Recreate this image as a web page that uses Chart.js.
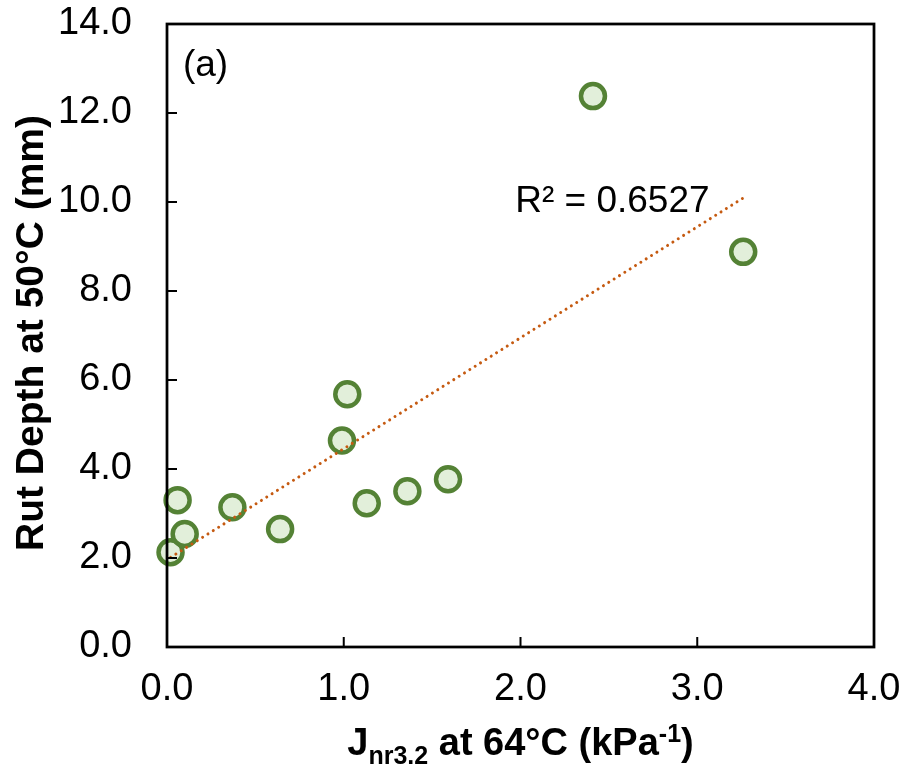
<!DOCTYPE html>
<html>
<head>
<meta charset="utf-8">
<script src="https://cdn.jsdelivr.net/npm/chart.js@4.4.1/dist/chart.umd.min.js"></script>
<style>
  html, body { margin: 0; padding: 0; background: #fff; }
</style>
</head>
<body>
<canvas id="rutChart" width="913" height="779"></canvas>
<script>
// data
var jnrValues = [0.02, 0.06, 0.10, 0.37, 0.64, 0.99, 1.02, 1.13, 1.36, 1.59, 2.41, 3.26];
var rutDepths = [2.13, 3.30, 2.54, 3.14, 2.65, 4.64, 5.68, 3.23, 3.50, 3.77, 12.38, 8.88];
var xTicks = [0, 1, 2, 3, 4];
var yTicks = [0, 2, 4, 6, 8, 10, 12, 14];
var r2Label = 'R² = 0.6527';
var panelLabel = '(a)';

var FONT = '"Liberation Sans", Arial, sans-serif';

// least squares trendline over the data range (like Excel)
var n = jnrValues.length, sx = 0, sy = 0, sxx = 0, sxy = 0;
for (var i = 0; i < n; i++) {
    sx += jnrValues[i]; sy += rutDepths[i];
    sxx += jnrValues[i] * jnrValues[i]; sxy += jnrValues[i] * rutDepths[i];
}
var slope = (n * sxy - sx * sy) / (n * sxx - sx * sx);
var intercept = (sy - slope * sx) / n;
var xLo = Math.min.apply(null, jnrValues), xHi = Math.max.apply(null, jnrValues);
var trendPoints = [
    { x: xLo, y: intercept + slope * xLo },
    { x: xHi, y: intercept + slope * xHi }
];

var scatterPoints = jnrValues.map(function (v, i) { return { x: v, y: rutDepths[i] }; });

var framePlugin = {
    id: 'frame',
    afterDraw: function (chart) {
        var ctx = chart.ctx, a = chart.chartArea;
        var xs = chart.scales.x, ys = chart.scales.y;
        ctx.save();
        ctx.strokeStyle = '#000';
        ctx.lineWidth = 2.75;
        ctx.strokeRect(a.left, a.top, a.right - a.left, a.bottom - a.top);
        // inner tick marks
        ctx.lineWidth = 2;
        ctx.beginPath();
        xTicks.forEach(function (t) {
            var px = xs.getPixelForValue(t);
            ctx.moveTo(px, a.bottom); ctx.lineTo(px, a.bottom - 10);
        });
        yTicks.forEach(function (t) {
            var py = ys.getPixelForValue(t);
            ctx.moveTo(a.left, py); ctx.lineTo(a.left + 10, py);
        });
        ctx.stroke();

        ctx.fillStyle = '#000';
        // R² and panel label
        ctx.font = '37px ' + FONT;
        ctx.textAlign = 'left';
        ctx.textBaseline = 'middle';
        ctx.fillText(r2Label, xs.getPixelForValue(1.97), ys.getPixelForValue(10.0));
        ctx.fillText(panelLabel, xs.getPixelForValue(0.09), ys.getPixelForValue(13.05));

        // y axis title
        ctx.save();
        ctx.translate(43, 333);
        ctx.rotate(-Math.PI / 2);
        ctx.font = 'bold 39px ' + FONT;
        ctx.textAlign = 'center';
        ctx.textBaseline = 'alphabetic';
        ctx.fillText('Rut Depth at 50°C (mm)', 0, 0);
        ctx.restore();

        // x axis title with sub/superscript
        var parts = [
            { t: 'J', size: 38, dy: 0 },
            { t: 'nr3.2', size: 25, dy: 9 },
            { t: ' at 64°C (kPa', size: 38, dy: 0 },
            { t: '-1', size: 25, dy: -13 },
            { t: ')', size: 38, dy: 0 }
        ];
        var total = 0;
        parts.forEach(function (p) {
            ctx.font = 'bold ' + p.size + 'px ' + FONT;
            p.w = ctx.measureText(p.t).width;
            total += p.w;
        });
        var cx = (a.left + a.right) / 2 - total / 2;
        ctx.textBaseline = 'alphabetic';
        parts.forEach(function (p) {
            ctx.font = 'bold ' + p.size + 'px ' + FONT;
            ctx.fillText(p.t, cx, 755 + p.dy);
            cx += p.w;
        });
        ctx.restore();
    }
};

new Chart(document.getElementById('rutChart').getContext('2d'), {
    type: 'scatter',
    data: {
        datasets: [{
            type: 'line',
            label: 'Trend',
            data: trendPoints,
            borderColor: '#C55A11',
            borderWidth: 3,
            borderDash: [0.01, 6.3],
            borderCapStyle: 'round',
            pointRadius: 0,
            fill: false,
            order: 0
        }, {
            label: 'Rut depth',
            data: scatterPoints,
            backgroundColor: '#E2EFDA',
            borderColor: '#548235',
            borderWidth: 4.5,
            pointRadius: 12,
            pointHoverRadius: 12,
            clip: false,
            order: 1
        }]
    },
    options: {
        responsive: false,
        animation: false,
        layout: { autoPadding: false, padding: { left: 0, right: 39, top: 24, bottom: 0 } },
        plugins: {
            legend: { display: false },
            tooltip: { enabled: false }
        },
        scales: {
            x: {
                type: 'linear',
                min: 0,
                max: 4,
                afterBuildTicks: function (s) { s.ticks = xTicks.map(function (v) { return { value: v }; }); },
                afterFit: function (s) {
                    s.height = 132;
                    s.paddingLeft = 0; s.paddingRight = 0;
                },
                ticks: {
                    font: { size: 38, family: FONT },
                    color: '#000',
                    padding: 20,
                    maxRotation: 0,
                    callback: function (v) { return v.toFixed(1); }
                },
                grid: { display: false, drawTicks: false },
                border: { display: false }
            },
            y: {
                min: 0,
                max: 14,
                afterBuildTicks: function (s) { s.ticks = yTicks.map(function (v) { return { value: v }; }); },
                afterFit: function (s) {
                    s.width = 167;
                    s.paddingTop = 0; s.paddingBottom = 0;
                },
                ticks: {
                    font: { size: 38, family: FONT },
                    color: '#000',
                    padding: 35,
                    callback: function (v) { return v.toFixed(1); }
                },
                grid: { display: false, drawTicks: false },
                border: { display: false }
            }
        }
    },
    plugins: [framePlugin]
});
</script>
</body>
</html>
